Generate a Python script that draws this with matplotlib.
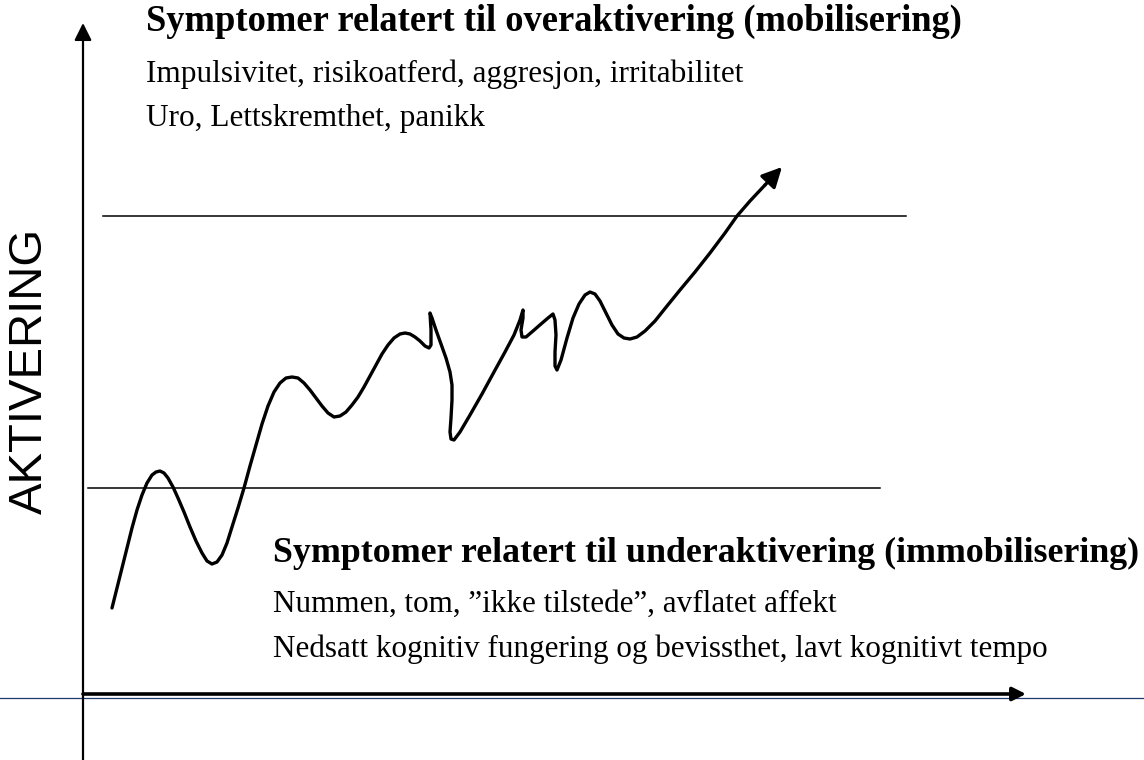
import matplotlib.pyplot as plt

# Tekster
tittel_over = "Symptomer relatert til overaktivering (mobilisering)"
linjer_over = ["Impulsivitet, risikoatferd, aggresjon, irritabilitet",
               "Uro, Lettskremthet, panikk"]
tittel_under = "Symptomer relatert til underaktivering (immobilisering)"
linjer_under = ["Nummen, tom, \u201dikke tilstede\u201d, avflatet affekt",
                "Nedsatt kognitiv fungering og bevissthet, lavt kognitivt tempo"]
akse_tekst = "AKTIVERING"

# Grensene (pikselkoordinater, y nedover)
ovre_grense = 216
nedre_grense = 488

# Aktiveringskurven, lest av bildet
kurve_x = [112, 117, 122, 127, 132, 137, 142, 147, 152, 156, 160, 164, 168, 173, 178,
           184, 190, 196, 202, 207, 212, 217, 222, 227, 232, 238, 244, 250, 256, 262,
           268, 274, 280, 286, 292, 298, 304, 310, 316, 322, 328, 334, 340, 346, 352,
           358, 364, 370, 376, 382, 388, 394, 400, 405, 410, 415, 420, 425, 429, 431,
           431, 430, 432, 436, 441, 446, 450, 452, 452, 451, 450, 451, 454, 460, 470,
           482, 494, 505, 514, 520, 523, 523, 521, 522, 526, 533, 541, 548, 553, 555,
           556, 555, 555, 557, 561, 567, 573, 579, 585, 590, 595, 600, 606, 612, 618,
           624, 630, 637, 645, 655, 667, 680, 695, 710, 725, 737, 750, 765]
kurve_y = [608, 588, 568, 548, 528, 510, 495, 483, 475, 472, 471, 473, 478, 487, 498,
           512, 527, 541, 553, 561, 564, 562, 555, 543, 527, 508, 488, 466, 445, 424,
           406, 392, 383, 378, 377, 378, 383, 390, 398, 406, 413, 417, 416, 412, 405,
           397, 387, 376, 365, 354, 345, 338, 334, 333, 334, 337, 341, 346, 348, 345,
           330, 313, 318, 330, 344, 358, 372, 385, 400, 418, 432, 439, 440, 432, 415,
           394, 372, 352, 335, 320, 310, 318, 330, 337, 337, 331, 324, 318, 314, 320,
           335, 352, 366, 370, 360, 338, 318, 304, 295, 292, 294, 301, 313, 325, 334,
           338, 339, 337, 331, 321, 306, 290, 272, 253, 233, 216, 201, 185]
pil_spiss = (782, 167)

fig = plt.figure(figsize=(11.44, 7.6), dpi=100)
ax = fig.add_axes([0, 0, 1, 1])
ax.set_xlim(0, 1144)
ax.set_ylim(760, 0)
ax.axis('off')

# tynn blå linje over hele bredden
ax.axhline(698, color='#1f3a6e', lw=0.9)

# akser med piler
ax.annotate('', xy=(83, 23), xytext=(83, 760),
            arrowprops=dict(arrowstyle='-|>', lw=1.6, color='black',
                            mutation_scale=26, shrinkA=0, shrinkB=0))
ax.annotate('', xy=(1026, 694), xytext=(83, 694),
            arrowprops=dict(arrowstyle='-|>', lw=2.6, color='black',
                            mutation_scale=20, shrinkA=0, shrinkB=0))

# grenselinjer
ax.plot([103, 906], [ovre_grense, ovre_grense], color='black', lw=1.1)
ax.plot([88, 880], [nedre_grense, nedre_grense], color='black', lw=1.1)

# kurven
ax.plot(kurve_x, kurve_y, color='black', lw=2.4, solid_joinstyle='round',
        solid_capstyle='round')
ax.annotate('', xy=pil_spiss, xytext=(kurve_x[-1], kurve_y[-1]),
            arrowprops=dict(arrowstyle='-|>', lw=2.4, color='black',
                            mutation_scale=30, shrinkA=0, shrinkB=0))

serif = 'Liberation Serif'
ax.text(146, 31, tittel_over, family=serif, fontsize=26.3, weight='bold',
        ha='left', va='baseline')
for tekst, y in zip(linjer_over, [82, 126]):
    ax.text(146, y, tekst, family=serif, fontsize=22.5, ha='left', va='baseline')

ax.text(273, 562, tittel_under, family=serif, fontsize=25.8, weight='bold',
        ha='left', va='baseline')
for tekst, y in zip(linjer_under, [612, 657]):
    ax.text(273, y, tekst, family=serif, fontsize=22.4, ha='left', va='baseline')

ax.text(30, 371, akse_tekst, family='Liberation Sans', fontsize=34,
        rotation=90, ha='center', va='center')

fig.savefig('out.png', dpi=100)
